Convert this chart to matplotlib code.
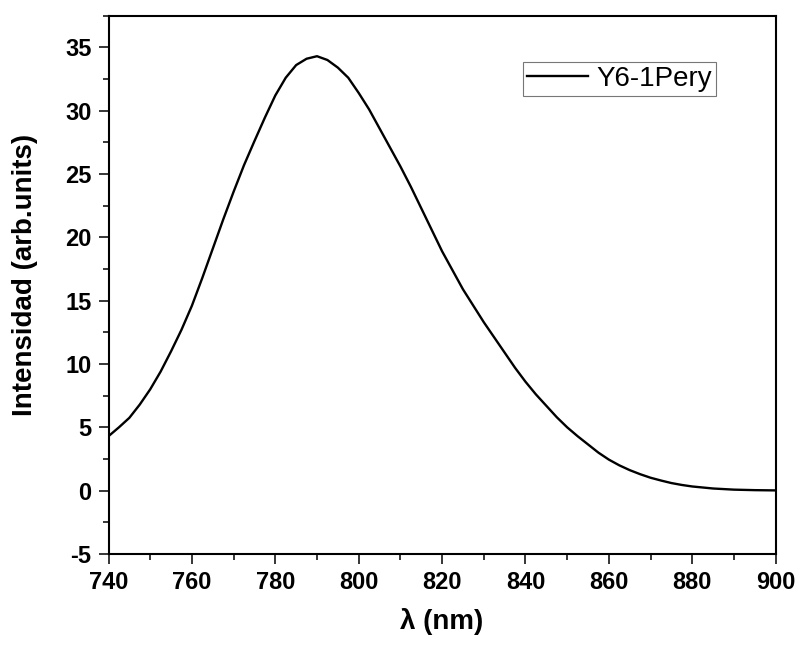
import matplotlib.pyplot as plt
from matplotlib.ticker import MultipleLocator

plt.switch_backend('agg')
plt.rcParams['font.family'] = ['Liberation Sans', 'DejaVu Sans']
plt.rcParams['axes.unicode_minus'] = False

# Espectro
wavelength = [740, 742.5, 745, 747.5, 750, 752.5, 755, 757.5, 760, 762.5, 765,
              767.5, 770, 772.5, 775, 777.5, 780, 782.5, 785, 787.5, 790, 792.5,
              795, 797.5, 800, 802.5, 805, 807.5, 810, 812.5, 815, 817.5, 820,
              822.5, 825, 827.5, 830, 832.5, 835, 837.5, 840, 842.5, 845, 847.5,
              850, 852.5, 855, 857.5, 860, 862.5, 865, 867.5, 870, 872.5, 875,
              877.5, 880, 885, 890, 895, 900]
intensity = [4.3, 5.0, 5.75, 6.8, 8.0, 9.4, 11.0, 12.7, 14.6, 16.8, 19.1,
             21.4, 23.6, 25.7, 27.6, 29.45, 31.2, 32.6, 33.6, 34.1, 34.3, 34.0,
             33.4, 32.6, 31.4, 30.1, 28.6, 27.1, 25.6, 24.0, 22.3, 20.6, 18.9,
             17.4, 15.9, 14.6, 13.3, 12.1, 10.9, 9.7, 8.6, 7.6, 6.7, 5.8,
             5.0, 4.3, 3.65, 3.0, 2.45, 2.0, 1.62, 1.3, 1.02, 0.8, 0.6,
             0.45, 0.33, 0.17, 0.08, 0.04, 0.02]
series_label = 'Y6-1Pery'

fig = plt.figure(figsize=(7.99, 6.45), dpi=100)
ax = fig.add_axes([0.1358, 0.1411, 0.835, 0.8346])

ax.plot(wavelength, intensity, color='black', linewidth=1.7, label=series_label)

ax.set_xlim(740, 900)
ax.set_ylim(-5, 37.5)
ax.xaxis.set_major_locator(MultipleLocator(20))
ax.xaxis.set_minor_locator(MultipleLocator(10))
ax.yaxis.set_major_locator(MultipleLocator(5))
ax.yaxis.set_minor_locator(MultipleLocator(2.5))

for side in ['left', 'bottom', 'top', 'right']:
    ax.spines[side].set_linewidth(1.5)

ax.tick_params(which='both', direction='out', top=False, right=False, width=1.1)
ax.tick_params(which='major', length=7.2, pad=5, labelsize=17)
ax.tick_params(which='minor', length=4.3)
for lab in ax.get_xticklabels() + ax.get_yticklabels():
    lab.set_fontweight('bold')

ax.set_xlabel('λ (nm)', fontsize=20, fontweight='bold', labelpad=10)
ax.set_ylabel('Intensidad (arb.units)', fontsize=20, fontweight='bold')
ax.yaxis.set_label_coords(-0.106, 0.518)

leg = ax.legend(loc='upper left', bbox_to_anchor=(0.6208, 0.9145), borderaxespad=0,
                fontsize=20, frameon=True, fancybox=False, borderpad=0.15,
                handlelength=2.2, handletextpad=0.3)
leg.get_frame().set_edgecolor('#555555')
leg.get_frame().set_linewidth(0.8)

fig.savefig('out.png', dpi=100)
